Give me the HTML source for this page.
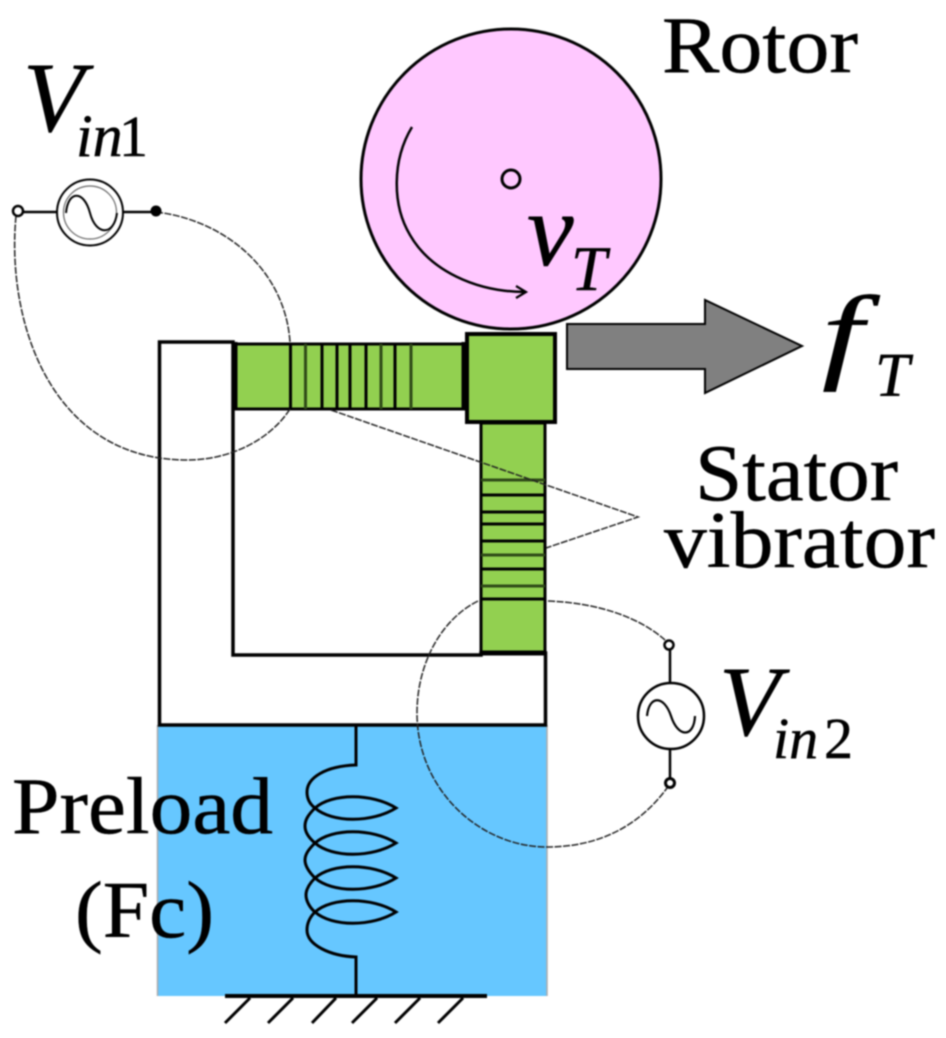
<!DOCTYPE html>
<html><head><meta charset="utf-8"><style>
html,body{margin:0;padding:0;background:#fff;width:946px;height:1038px;overflow:hidden}
svg{display:block;filter:blur(.9px)}
text{font-family:"Liberation Serif",serif;fill:#000;stroke:#000;stroke-width:.5px}
.i{font-style:italic}
</style></head><body>
<svg width="946" height="1038" viewBox="0 0 946 1038" xmlns="http://www.w3.org/2000/svg">
<rect x="157" y="725" width="390" height="271" fill="#66C7FF"/>
<line x1="547" y1="725" x2="547" y2="996" stroke="#aaa" stroke-width="1.5"/>
<line x1="157.500" y1="725" x2="157.500" y2="996" stroke="#aaa" stroke-width="1.5"/>
<path d="M159.500 342H233V655H481V653H545.500V725H159.500Z" fill="#fff" stroke="#000" stroke-width="3.500"/>
<circle cx="511" cy="179" r="150" fill="#FFC8FF" stroke="#000" stroke-width="3"/>
<circle cx="511" cy="179" r="9" fill="#FFC8FF" stroke="#000" stroke-width="3"/>
<path d="M412 127C392 160 392 205 410 235C430 270 475 292 526 292" fill="none" stroke="#000" stroke-width="2.500"/>
<path d="M516 286L526 292L516 298" fill="none" stroke="#000" stroke-width="2.200"/>

<rect x="235" y="344" width="231" height="65" fill="#92D050" stroke="#000" stroke-width="3"/>
<line x1="235" y1="342" x2="235" y2="410" stroke="#000" stroke-width="5"/>
<line x1="464" y1="342" x2="464" y2="410" stroke="#000" stroke-width="5"/>
<g stroke="#000" stroke-width="3">
<line x1="290.500" y1="344" x2="290.500" y2="409"/><line x1="305.500" y1="344" x2="305.500" y2="409" stroke="#2f4a18"/><line x1="322" y1="344" x2="322" y2="409"/><line x1="337" y1="344" x2="337" y2="409"/><line x1="350" y1="344" x2="350" y2="409"/><line x1="366" y1="344" x2="366" y2="409"/><line x1="381" y1="344" x2="381" y2="409" stroke="#2f4a18"/><line x1="395" y1="344" x2="395" y2="409"/><line x1="411" y1="344" x2="411" y2="409" stroke="#2f4a18"/>
</g>
<rect x="481" y="423" width="64" height="230" fill="#92D050" stroke="#000" stroke-width="3"/>
<line x1="480" y1="653" x2="546" y2="653" stroke="#000" stroke-width="5"/>
<g stroke="#000" stroke-width="3">
<line x1="481" y1="480" x2="545" y2="480" stroke="#2f4a18"/><line x1="481" y1="495" x2="545" y2="495"/><line x1="481" y1="512" x2="545" y2="512"/><line x1="481" y1="524" x2="545" y2="524"/><line x1="481" y1="541" x2="545" y2="541"/><line x1="481" y1="555" x2="545" y2="555" stroke="#2f4a18"/><line x1="481" y1="569" x2="545" y2="569"/><line x1="481" y1="586" x2="545" y2="586" stroke="#2f4a18"/><line x1="481" y1="599" x2="545" y2="599"/>
</g>
<rect x="467" y="334" width="88" height="88" fill="#92D050" stroke="#000" stroke-width="4"/>
<path d="M567 324H705V300L802 346L705 393V369H567Z" fill="#808080" stroke="#000" stroke-width="2"/>

<g fill="none" stroke="#000" stroke-width="3">
<path d="M356 725V765C325 766 307 778 307 792C307 800 311 805 315 808C308 815 305 820 305 826C305 832 309 838 315 843C309 849 305 854 305 860C305 866 309 872 315 878C309 884 306 889 306 895C306 901 310 908 315 912C309 918 307 924 307 930C307 945 330 956 356 957V996"/>
<path d="M315 808C332 793 372 793 396 808C372 823 332 823 315 808Z"/>
<path d="M315 843C332 828 372 828 396 843C372 858 332 858 315 843Z"/>
<path d="M315 878C332 863 372 863 396 878C372 893 332 893 315 878Z"/>
<path d="M315 912C332 897 372 897 396 912C372 927 332 927 315 912Z"/>
</g>
<line x1="225" y1="996" x2="487" y2="996" stroke="#000" stroke-width="4"/>
<g stroke="#000" stroke-width="3">
<line x1="250" y1="998" x2="225" y2="1023"/><line x1="293" y1="998" x2="268" y2="1023"/><line x1="336" y1="998" x2="312" y2="1023"/><line x1="377" y1="998" x2="352" y2="1023"/><line x1="420" y1="998" x2="395" y2="1023"/><line x1="463" y1="998" x2="438" y2="1023"/>
</g>

<g fill="none" stroke="#222" stroke-width="1.500" stroke-dasharray="7 1.500">
<path d="M156 212C225 220 285 270 290 342"/>
<path d="M16 216C6 320 50 460 187 460C230 460 270 440 290 409"/>
<path d="M331 410L638 517L546 548"/>
<path d="M548 601C600 603 640 618 665 640"/>
<path d="M478 601C440 620 417 665 417 713C417 790 480 847 547 847C600 847 640 825 667 788"/>
</g>

<g fill="none" stroke="#000">
<line x1="22" y1="212" x2="57" y2="212" stroke-width="2.500"/>
<line x1="123" y1="212" x2="152" y2="212" stroke-width="2.500"/>
<circle cx="90" cy="212.500" r="33" stroke-width="2"/>
<circle cx="90" cy="212.500" r="26.500" stroke="#666" stroke-width="1.200"/>
<path d="M66 213C68 190 84 190 90 213C96 236 114 236 117 213" stroke-width="2"/>
<circle cx="18" cy="211" r="5" fill="#fff" stroke-width="2.500"/>
</g>
<circle cx="156" cy="211" r="5.500" fill="#000"/>

<g fill="none" stroke="#000">
<line x1="670" y1="649" x2="670" y2="683" stroke-width="2.500"/>
<line x1="670" y1="749" x2="670" y2="780" stroke-width="2.500"/>
<circle cx="671" cy="716" r="33" fill="#fff" stroke-width="2.500"/>
<path d="M647 716C649 695 664 695 671 716C678 738 694 738 695 716" stroke-width="2.200"/>
<circle cx="669" cy="645" r="4.500" fill="#fff" stroke-width="2.500"/>
<circle cx="670" cy="783" r="4.500" fill="#fff" stroke-width="3"/>
</g>

<text x="662" y="72" font-size="80" textLength="196" lengthAdjust="spacingAndGlyphs">Rotor</text>
<text x="23" y="131" font-size="100" class="i">V</text>
<text x="76" y="156" font-size="60" class="i">in</text>
<text x="119" y="156" font-size="58">1</text>
<text x="527" y="265" font-size="105" class="i">v</text>
<text x="571" y="290" font-size="64" class="i">T</text>
<text x="822" y="369" font-size="106" class="i" textLength="41" lengthAdjust="spacingAndGlyphs">f</text>
<text x="875" y="396" font-size="62" class="i">T</text>
<text x="695" y="500" font-size="80" textLength="203" lengthAdjust="spacingAndGlyphs">Stator</text>
<text x="664" y="567" font-size="80" textLength="271" lengthAdjust="spacingAndGlyphs">vibrator</text>
<text x="12" y="833" font-size="80" textLength="261" lengthAdjust="spacingAndGlyphs">Preload</text>
<text x="75" y="937" font-size="80" textLength="139" lengthAdjust="spacingAndGlyphs">(Fc)</text>
<text x="719" y="735" font-size="100" class="i">V</text>
<text x="773" y="758" font-size="58" class="i">in</text>
<text x="824" y="758" font-size="58">2</text>
</svg>
</body></html>
